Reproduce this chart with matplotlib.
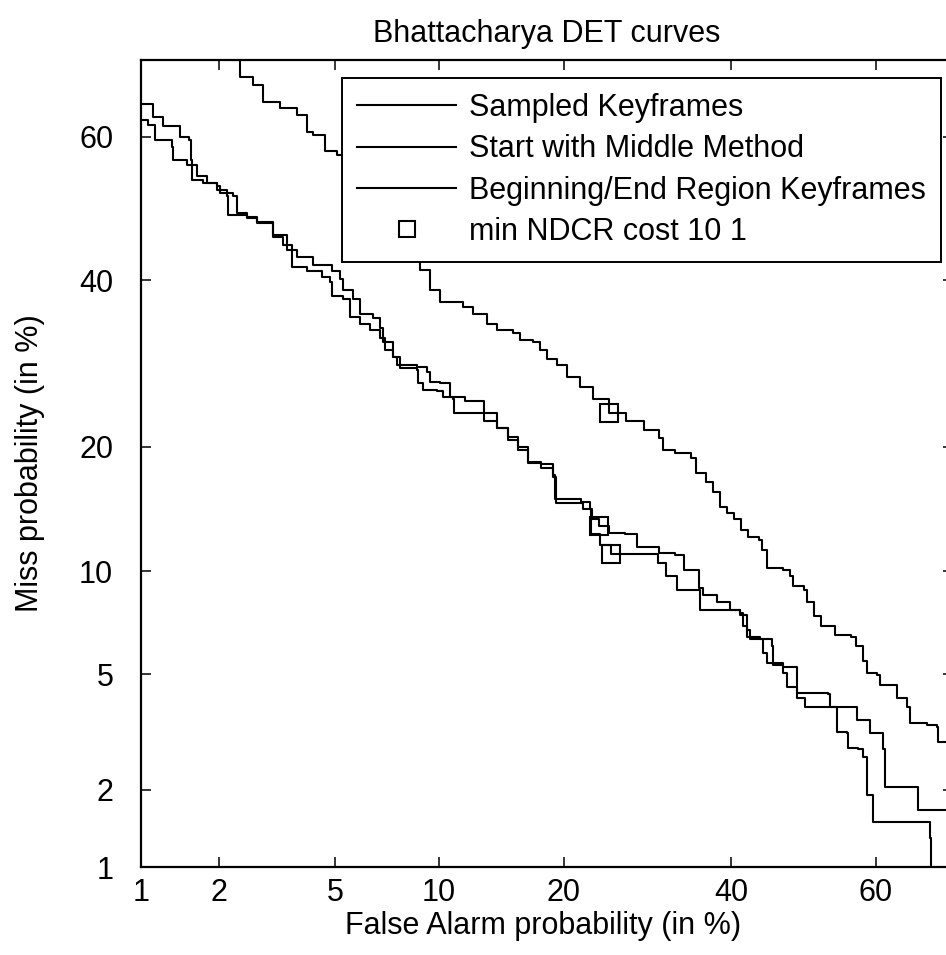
import math
import numpy as np
import matplotlib
matplotlib.use('Agg')
import matplotlib.pyplot as plt
from matplotlib.lines import Line2D
from matplotlib.ticker import FixedLocator, FixedFormatter, NullLocator

plt.rcParams['font.family'] = ['Liberation Sans', 'DejaVu Sans']

# DET curve data, in % (false alarm, miss)
sampled_pfa = [2.15, 2.24, 2.39, 2.66, 2.89, 3.30, 3.77, 4.07, 4.25, 4.65, 5.07, 5.30, 6.4, 7.6, 8.8,
               8.9, 9.5, 10.1, 11.6, 12.3, 13.3, 14.1, 15.4, 16.0, 17.1, 17.7, 18.4, 19.3, 20.3, 21.6,
               23.0, 24.7, 26.6, 28.8, 30.6, 31.1, 32.6, 34.6, 35.3, 36.6, 37.5, 38.4, 39.4, 40.3, 41.3,
               42.3, 43.8, 44.2, 44.9, 47.1, 48.1, 48.5, 50.0, 50.5, 51.4, 52.4, 54.4, 56.6, 57.3, 58.2,
               58.8, 60.2, 60.6, 62.3, 62.8, 64.2, 64.5, 66.7, 68.0, 68.1, 75.0]
sampled_pmiss = [71.0, 70.0, 67.9, 66.9, 64.7, 63.9, 63.0, 60.7, 60.3, 58.0, 57.5, 57.1, 52.6, 47.7, 42.5,
                 41.4, 38.7, 37.1, 36.4, 35.4, 34.1, 33.4, 33.0, 32.1, 31.8, 30.9, 29.7, 29.0, 27.6, 26.4,
                 25.0, 23.5, 22.6, 21.7, 20.9, 19.7, 19.4, 18.9, 17.5, 16.7, 15.8, 14.6, 14.1, 13.6, 12.8,
                 12.3, 12.1, 11.4, 10.2, 10.1, 9.7, 9.1, 8.9, 8.2, 7.5, 7.0, 6.6, 6.5, 6.1, 5.5,
                 5.05, 4.97, 4.6, 4.6, 4.2, 3.9, 3.46, 3.4, 3.35, 2.98, 2.98]

middle_pfa = [1.0, 1.12, 1.23, 1.43, 1.55, 1.58, 1.59, 1.75, 1.97, 2.02, 2.26, 2.34, 2.54, 2.75, 3.13,
              3.49, 3.77, 4.25, 4.89, 5.18, 5.30, 5.68, 5.97, 6.53, 6.85, 7.0, 7.47, 7.68, 8.74, 9.3,
              9.5, 10.1, 10.7, 11.7, 13.1, 14.1, 15.0, 15.8, 16.7, 17.8, 18.9, 19.1, 20.7, 21.7, 22.7,
              22.9, 23.6, 24.7, 26.5, 27.9, 27.9, 30.5, 30.6, 32.6, 33.7, 33.7, 35.5, 35.7, 36.2, 37.8,
              38.0, 39.5, 39.8, 41.2, 41.6, 42.1, 43.9, 45.6, 45.7, 47.1, 48.8, 49.1, 53.4, 53.7, 56.0,
              57.4, 59.2, 61.0, 61.2, 65.6, 65.6, 75.0]
middle_pmiss = [64.4, 62.7, 61.4, 60.0, 59.6, 56.8, 54.0, 53.6, 53.1, 52.2, 51.7, 49.4, 48.8, 48.1, 46.3,
                44.2, 43.2, 42.1, 41.2, 40.1, 38.7, 37.4, 35.4, 35.0, 33.7, 31.9, 30.0, 29.0, 28.8, 28.2,
                27.0, 26.9, 25.3, 24.8, 23.5, 21.9, 21.0, 20.0, 18.5, 18.3, 17.3, 15.2, 15.2, 15.0, 14.4,
                13.6, 13.1, 12.6, 12.5, 12.2, 11.6, 11.6, 11.2, 11.05, 10.9, 10.1, 10.1, 9.0, 8.6, 8.6,
                8.2, 8.2, 7.8, 7.65, 7.0, 6.5, 6.4, 6.1, 5.4, 5.27, 5.27, 4.35, 4.3, 3.9, 3.9,
                3.54, 3.2, 2.8, 2.05, 2.05, 1.68, 1.68]

begend_pfa = [1.0, 1.07, 1.14, 1.33, 1.34, 1.52, 1.66, 1.81, 1.97, 2.15, 2.16, 2.35, 2.54, 2.75, 3.13,
              3.38, 3.62, 3.62, 4.06, 4.55, 4.82, 4.89, 5.30, 5.57, 5.97, 6.4, 6.85, 7.09, 7.47, 7.82,
              8.74, 8.8, 9.07, 9.9, 10.3, 10.9, 11.0, 12.1, 13.1, 14.1, 15.0, 15.8, 16.7, 17.8, 18.9,
              19.2, 20.8, 21.9, 22.8, 23.7, 24.96, 29.4, 30.5, 31.5, 32.8, 35.4, 35.8, 39.8, 41.2, 42.1,
              42.5, 44.2, 44.3, 44.9, 45.7, 47.1, 47.7, 49.1, 50.2, 54.4, 54.7, 56.0, 56.2, 57.6, 58.2,
              58.8, 58.8, 59.6, 59.6, 66.9, 67.1, 67.2]
begend_pmiss = [62.2, 61.6, 59.6, 58.6, 56.8, 56.1, 54.5, 53.6, 52.6, 51.7, 49.1, 49.1, 48.7, 48.0, 46.0,
                44.9, 44.2, 41.8, 41.2, 40.5, 39.7, 37.8, 37.4, 35.1, 34.1, 33.4, 32.4, 30.9, 30.0, 28.7,
                28.4, 26.9, 26.1, 25.9, 25.3, 25.0, 23.5, 23.5, 22.6, 21.9, 20.7, 19.7, 18.4, 18.0, 17.1,
                14.9, 14.9, 14.4, 12.5, 11.7, 11.1, 11.1, 10.5, 9.7, 8.9, 8.9, 7.8, 7.8, 7.55, 6.8,
                6.4, 6.4, 5.8, 5.4, 5.35, 5.05, 4.55, 4.2, 3.9, 3.9, 3.22, 3.2, 2.84, 2.8, 2.64,
                2.43, 1.92, 1.9, 1.51, 1.51, 1.31, 0.8]

# min NDCR points (sampled, middle, beg/end)
ndcr_pfa = [24.7, 23.6, 24.96]
ndcr_pmiss = [23.5, 13.1, 11.1]

tick_vals = [1, 2, 5, 10, 20, 40, 60]
labels = ['Sampled Keyframes', 'Start with Middle Method',
          'Beginning/End Region Keyframes', 'min NDCR cost 10 1']


# normal deviate scale (Acklam approximation for the inverse cdf)
A = [-3.969683028665376e+01, 2.209460984245205e+02, -2.759285104469687e+02,
     1.383577518672690e+02, -3.066479806614716e+01, 2.506628277459239e+00]
B = [-5.447609879822406e+01, 1.615858368580409e+02, -1.556989798598866e+02,
     6.680131188771972e+01, -1.328068155288572e+01]
C = [-7.784894002430293e-03, -3.223964580411365e-01, -2.400758277161838e+00,
     -2.549732539343734e+00, 4.374664141464968e+00, 2.938163982698783e+00]
D = [7.784695709041462e-03, 3.224671290700398e-01, 2.445134137142996e+00,
     3.754408661907416e+00]


def ppnd(pct):
    p = np.clip(np.asarray(pct, dtype=float) / 100.0, 1e-9, 1 - 1e-9)
    q = p - 0.5
    r = q * q
    mid = (((((A[0]*r+A[1])*r+A[2])*r+A[3])*r+A[4])*r+A[5])*q / \
          (((((B[0]*r+B[1])*r+B[2])*r+B[3])*r+B[4])*r+1)
    ql = np.sqrt(-2 * np.log(np.minimum(p, 1 - p)))
    tail = (((((C[0]*ql+C[1])*ql+C[2])*ql+C[3])*ql+C[4])*ql+C[5]) / \
           ((((D[0]*ql+D[1])*ql+D[2])*ql+D[3])*ql+1)
    tail = np.where(p < 0.5, tail, -tail)
    return np.where(np.abs(q) <= 0.5 - 0.02425, mid, tail)


_erf = np.vectorize(math.erf)


def inv_ppnd(z):
    z = np.asarray(z, dtype=float)
    return 100.0 * 0.5 * (1 + _erf(z / math.sqrt(2)))


fs = 22
fig = plt.figure(figsize=(9.46, 9.55), dpi=100)
ax = fig.add_axes([141/946, 88/955, 812/946, 807/955])
ax.set_xscale('function', functions=(ppnd, inv_ppnd))
ax.set_yscale('function', functions=(ppnd, inv_ppnd))
ax.set_xlim(1, 70)
ax.set_ylim(1, 70)

lw = 1.5
ax.plot(sampled_pfa, sampled_pmiss, color='k', lw=lw, drawstyle='steps-post')
ax.plot(middle_pfa, middle_pmiss, color='k', lw=lw, drawstyle='steps-post')
ax.plot(begend_pfa, begend_pmiss, color='k', lw=lw, drawstyle='steps-post')
ax.plot(ndcr_pfa, ndcr_pmiss, ls='none', marker='s', ms=13, mfc='none', mec='k', mew=1.5)

for axis in (ax.xaxis, ax.yaxis):
    axis.set_major_locator(FixedLocator(tick_vals))
    axis.set_major_formatter(FixedFormatter([str(t) for t in tick_vals]))
    axis.set_minor_locator(NullLocator())

ax.tick_params(direction='in', length=7.5, width=1.1, top=True, right=True,
               labelsize=fs, color='k')
ax.tick_params(axis='x', pad=8)
ax.tick_params(axis='y', pad=20)
for s in ax.spines.values():
    s.set_linewidth(1.6)

ax.set_title('Bhattacharya DET curves', fontsize=fs, pad=13)
ax.set_xlabel('False Alarm probability (in %)', fontsize=fs)
ax.set_ylabel('Miss probability (in %)', fontsize=fs)
ax.xaxis.set_label_coords(0.495, -0.054)
ax.yaxis.set_label_coords(-0.118, 0.5)

handles = [Line2D([], [], color='k', lw=lw) for _ in range(3)]
handles.append(Line2D([], [], ls='none', marker='s', ms=12, mfc='none', mec='k', mew=1.5))
leg = ax.legend(handles, labels, loc='upper right', bbox_to_anchor=(0.985, 0.978),
                borderaxespad=0, fontsize=fs, handlelength=3.25, handletextpad=0.4,
                labelspacing=0.37, borderpad=0.5, fancybox=False, framealpha=1,
                edgecolor='k')
leg.get_frame().set_linewidth(1.4)

fig.savefig('out.png', dpi=100)
